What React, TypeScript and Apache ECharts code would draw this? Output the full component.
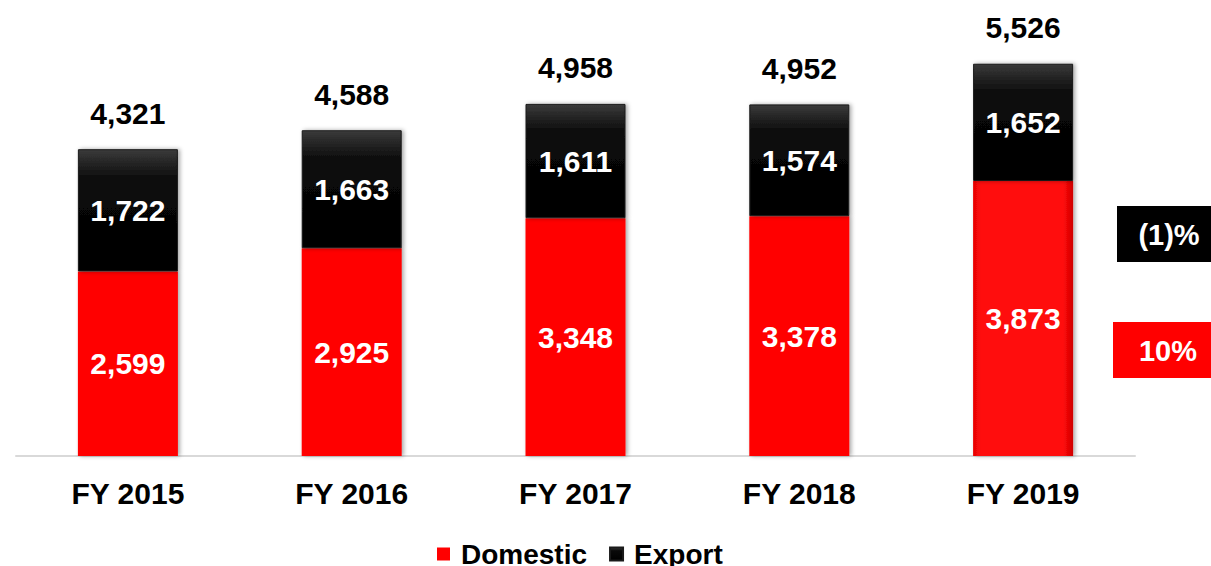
import React, { useEffect, useRef } from "react";
import * as echarts from "echarts";

const categories = ["FY 2015", "FY 2016", "FY 2017", "FY 2018", "FY 2019"];
const domestic = [2599, 2925, 3348, 3378, 3873];
const exportVals = [1722, 1663, 1611, 1574, 1652];
const totals = [4321, 4588, 4958, 4952, 5526];
const growthExport = "(1)%";
const growthDomestic = "10%";

const FONT = "Arial, 'Liberation Sans', Helvetica, sans-serif";
const FS = 30;

const fmt = (v: number) => v.toLocaleString("en-US");

export default function App() {
  const ref = useRef<HTMLDivElement>(null);

  useEffect(() => {
    document.body.style.margin = "0";
    if (!ref.current) return;
    const chart = echarts.init(ref.current, null, { renderer: "svg" });

    const exportColor = new echarts.graphic.LinearGradient(0, 0, 0, 1, [
      { offset: 0, color: "#3a3a3a" },
      { offset: 0.25, color: "#0a0a0a" },
      { offset: 1, color: "#000000" },
    ]);

    const domesticData = domestic.map((v, i) =>
      i === domestic.length - 1
        ? {
            value: v,
            itemStyle: {
              color: new echarts.graphic.LinearGradient(0, 0, 1, 0, [
                { offset: 0, color: "#e60000" },
                { offset: 0.08, color: "#ff1010" },
                { offset: 0.9, color: "#ff0a0a" },
                { offset: 1, color: "#d00000" },
              ]),
            },
          }
        : v
    );

    chart.setOption({
      animation: false,
      grid: { left: 16, right: 76, top: 30, bottom: 110, containLabel: false },
      legend: {
        data: ["Domestic", "Export"],
        left: 432,
        top: 535,
        itemWidth: 13,
        itemHeight: 13,
        itemGap: 22,
        icon: "rect",
        textStyle: {
          fontFamily: FONT,
          fontSize: 28,
          fontWeight: "bold",
          color: "#000",
          lineHeight: 28,
          padding: [0, 0, 0, 6],
        },
      },
      xAxis: {
        type: "category",
        data: categories,
        axisLine: { show: true, lineStyle: { color: "#d9d9d9", width: 2 } },
        axisTick: { show: false },
        axisLabel: {
          margin: 22,
          fontFamily: FONT,
          fontSize: FS,
          fontWeight: "bold",
          color: "#000",
          lineHeight: 30,
        },
      },
      yAxis: {
        type: "value",
        min: 0,
        max: 6000,
        show: false,
        splitLine: { show: false },
      },
      series: [
        {
          name: "Domestic",
          type: "bar",
          stack: "total",
          barWidth: 100,
          data: domesticData,
          itemStyle: {
            color: "#ff0000",
            shadowColor: "rgba(0,0,0,0.35)",
            shadowBlur: 4,
            shadowOffsetX: 2,
          },
          label: {
            show: true,
            position: "inside",
            formatter: (p: any) => fmt(p.value),
            fontFamily: FONT,
            fontSize: FS,
            fontWeight: "bold",
            color: "#fff",
          },
        },
        {
          name: "Export",
          type: "bar",
          stack: "total",
          barWidth: 100,
          data: exportVals,
          itemStyle: {
            color: exportColor,
            borderColor: "#1a1a1a",
            borderWidth: 1,
            shadowColor: "rgba(0,0,0,0.35)",
            shadowBlur: 4,
            shadowOffsetX: 2,
          },
          label: {
            show: true,
            position: "inside",
            formatter: (p: any) => fmt(p.value),
            fontFamily: FONT,
            fontSize: FS,
            fontWeight: "bold",
            color: "#fff",
          },
        },
        {
          name: "Total",
          type: "scatter",
          data: totals,
          symbolSize: 0,
          silent: true,
          itemStyle: { opacity: 1, color: "#000" },
          label: {
            show: true,
            position: "top",
            distance: 21,
            formatter: (p: any) => fmt(p.value),
            fontFamily: FONT,
            fontSize: FS,
            fontWeight: "bold",
            color: "#000",
            opacity: 1,
            lineHeight: 30,
          },
        },
      ],
      graphic: [
        {
          type: "rect",
          shape: { x: 1117, y: 206, width: 94, height: 56 },
          style: { fill: "#000" },
        },
        {
          type: "text",
          x: 1169,
          y: 235,
          style: {
            text: growthExport,
            fill: "#fff",
            font: `bold 29px ${FONT}`,
            align: "center",
            verticalAlign: "middle",
          },
        },
        {
          type: "rect",
          shape: { x: 1113, y: 322, width: 98, height: 56 },
          style: { fill: "#ff0000" },
        },
        {
          type: "text",
          x: 1168,
          y: 351,
          style: {
            text: growthDomestic,
            fill: "#fff",
            font: `bold 29px ${FONT}`,
            align: "center",
            verticalAlign: "middle",
          },
        },
      ],
    });

    return () => chart.dispose();
  }, []);

  return (
    <div
      ref={ref}
      style={{ width: 1211, height: 566, position: "absolute", left: 0, top: 0 }}
    />
  );
}
